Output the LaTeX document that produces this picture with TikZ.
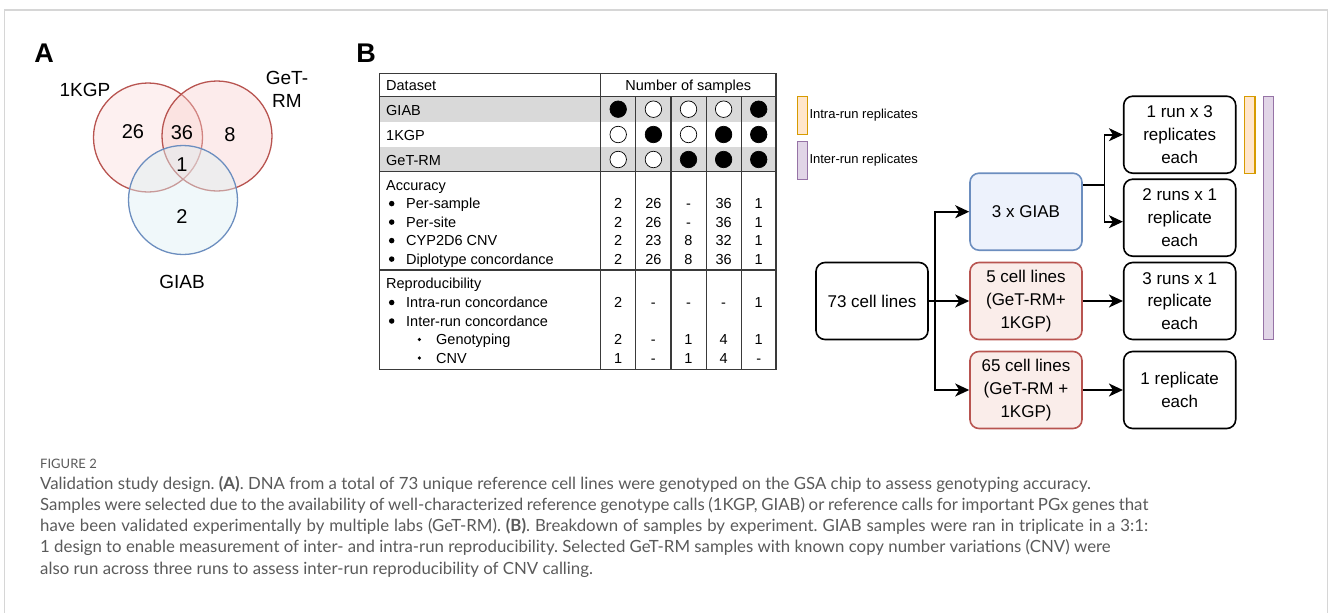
\documentclass[tikz,border=0pt]{standalone}
\usepackage{fontspec}
\setmainfont{Liberation Sans}
\newfontfamily\capfont{Lato}
\usetikzlibrary{arrows.meta}
\frenchspacing
\definecolor{vennred}{HTML}{B85450}
\definecolor{vennredfill}{HTML}{F8CECC}
\definecolor{vennblue}{HTML}{6C8EBF}
\definecolor{vennbluefill}{HTML}{DDF0F3}
\definecolor{rowgray}{HTML}{D9D9D9}
\definecolor{tablegray}{HTML}{3A3A3A}
\definecolor{giabfill}{HTML}{EDF2FC}
\definecolor{cellfill}{HTML}{FAEDEA}
\definecolor{intraline}{HTML}{D79B00}
\definecolor{intrafill}{HTML}{FFE6CC}
\definecolor{interline}{HTML}{9673A6}
\definecolor{interfill}{HTML}{E1D5E7}
\definecolor{capgray}{HTML}{5A5A5A}
\definecolor{framegray}{HTML}{D6D6D6}

\begin{document}
\begin{tikzpicture}[x=1pt,y=-1pt,
  panel/.style={font=\bfseries\fontsize{27}{27}\selectfont},
  vlabel/.style={font=\fontsize{19}{23}\selectfont, align=center},
  vnum/.style={font=\fontsize{20}{22}\selectfont},
  tcell/.style={font=\fontsize{14.5}{16}\selectfont, anchor=base, inner sep=0pt},
  tleft/.style={tcell, anchor=base west},
  bul/.style={circle, fill=black, inner sep=0pt, minimum size=5.5pt},
  subbul/.style={bul, minimum size=3.6pt},
  dotopen/.style={circle, draw=black, fill=white, line width=0.7pt, minimum size=16.5pt, inner sep=0pt},
  dotfull/.style={dotopen, fill=black},
  tline/.style={draw=tablegray, line width=1.1pt},
  flowbox/.style={draw, rounded corners=9pt, line width=1.6pt, minimum width=112pt, minimum height=77pt, align=center, font=\fontsize{17}{22.7}\selectfont, inner sep=2pt},
  arr/.style={line width=1.7pt, -{Stealth[length=14pt,width=13pt,inset=4pt]}},
  capline/.style={anchor=base west, inner sep=0pt, text=capgray, font=\capfont\fontsize{16.8}{20}\selectfont},
  ]
  \useasboundingbox (0,0) rectangle (1328,613);
  \draw[framegray, line width=1.5pt] (4.7,613) -- (4.7,10) -- (1327.3,10) -- (1327.3,613);

  %Panel A: Venn
  \node[panel] (pA) at (44,53) {A};
  \node[circle, draw=vennred, fill=vennredfill, fill opacity=0.3, line width=1.3pt, minimum size=109pt, inner sep=0pt] (ckgp) at (148,137.5) {};
  \node[circle, draw=vennred, fill=vennredfill, fill opacity=0.4, line width=1.3pt, minimum size=110pt, inner sep=0pt] (cgetrm) at (217,136) {};
  \node[circle, draw=vennblue, fill=vennbluefill, fill opacity=0.45, line width=1.3pt, minimum size=109pt, inner sep=0pt] (cgiab) at (183,200) {};
  \node[vlabel] (lkgp) at (85,90) {1KGP};
  \node[vlabel] (lgetrm) at (287,89.5) {GeT-\\RM};
  \node[vlabel] (lgiab) at (182,282) {GIAB};
  \node[vnum] (n26) at (133,132) {26};
  \node[vnum] (n36) at (182,133) {36};
  \node[vnum] (n8) at (230,135) {8};
  \node[vnum] (n1) at (182,165) {1};
  \node[vnum] (n2) at (182,217) {2};

  %Panel B: table
  \node[panel] (pB) at (366,53) {B};
  \fill[rowgray] (379.3,96.7) rectangle (776,121.7);
  \fill[rowgray] (379.3,147.3) rectangle (776,171.7);
  \draw[tline] (379.3,73.3) rectangle (776,369.3);
  \draw[tline] (379.3,96.7) -- (776,96.7);
  \draw[tline] (379.3,171.7) -- (776,171.7);
  \draw[tline] (379.3,270) -- (776,270);
  \draw[tline] (600.7,73.3) -- (600.7,369.3);
  \draw[tline] (635.8,96.7) -- (635.8,369.3);
  \draw[tline] (671,96.7) -- (671,369.3);
  \draw[tline] (706.1,96.7) -- (706.1,369.3);
  \draw[tline] (741.2,96.7) -- (741.2,369.3);
  \node[tleft] (hset) at (386,90.3) {Dataset};
  \node[tcell] (hnum) at (688.3,90.3) {Number of samples};
  \node[tleft] (rgiab) at (386,115.2) {GIAB};
  \node[tleft] (rkgp) at (386,140.4) {1KGP};
  \node[tleft] (rget) at (386,165.4) {GeT-RM};
  \node[dotfull] (d11) at (618.2,109.2) {};
  \node[dotopen] (d12) at (653.4,109.2) {};
  \node[dotopen] (d13) at (688.5,109.2) {};
  \node[dotopen] (d14) at (723.6,109.2) {};
  \node[dotfull] (d15) at (758.7,109.2) {};
  \node[dotopen] (d21) at (618.2,134.5) {};
  \node[dotfull] (d22) at (653.4,134.5) {};
  \node[dotopen] (d23) at (688.5,134.5) {};
  \node[dotfull] (d24) at (723.6,134.5) {};
  \node[dotfull] (d25) at (758.7,134.5) {};
  \node[dotopen] (d31) at (618.2,159.5) {};
  \node[dotopen] (d32) at (653.4,159.5) {};
  \node[dotfull] (d33) at (688.5,159.5) {};
  \node[dotfull] (d34) at (723.6,159.5) {};
  \node[dotfull] (d35) at (758.7,159.5) {};

  \node[tleft] (hacc) at (386,190.1) {Accuracy};
  \node[bul] (bps) at (391.7,203.6) {};
  \node[tleft] (lps) at (406,208.6) {Per-sample};
  \node[bul] (bpsi) at (391.7,222.1) {};
  \node[tleft] (lpsi) at (406,227.1) {Per-site};
  \node[bul] (bcnv) at (391.7,240.6) {};
  \node[tleft] (lcnv) at (406,245.6) {CYP2D6 CNV};
  \node[bul] (bdip) at (391.7,259.1) {};
  \node[tleft] (ldip) at (406,264.1) {Diplotype concordance};
  \node[tcell] (ps1) at (618.2,208.6) {2};  \node[tcell] (ps2) at (653.4,208.6) {26};
  \node[tcell] (ps3) at (688.5,208.6) {-};  \node[tcell] (ps4) at (723.6,208.6) {36};
  \node[tcell] (ps5) at (758.7,208.6) {1};
  \node[tcell] (si1) at (618.2,227.1) {2};  \node[tcell] (si2) at (653.4,227.1) {26};
  \node[tcell] (si3) at (688.5,227.1) {-};  \node[tcell] (si4) at (723.6,227.1) {36};
  \node[tcell] (si5) at (758.7,227.1) {1};
  \node[tcell] (cn1) at (618.2,245.6) {2};  \node[tcell] (cn2) at (653.4,245.6) {23};
  \node[tcell] (cn3) at (688.5,245.6) {8};  \node[tcell] (cn4) at (723.6,245.6) {32};
  \node[tcell] (cn5) at (758.7,245.6) {1};
  \node[tcell] (dp1) at (618.2,264.1) {2};  \node[tcell] (dp2) at (653.4,264.1) {26};
  \node[tcell] (dp3) at (688.5,264.1) {8};  \node[tcell] (dp4) at (723.6,264.1) {36};
  \node[tcell] (dp5) at (758.7,264.1) {1};

  \node[tleft] (hrep) at (386,288.6) {Reproducibility};
  \node[bul] (bintra) at (391.7,302.5) {};
  \node[tleft] (lintra) at (406,307.5) {Intra-run concordance};
  \node[bul] (binter) at (391.7,321) {};
  \node[tleft] (linter) at (406,326) {Inter-run concordance};
  \node[subbul] (bgt) at (419.3,339.5) {};
  \node[tleft] (lgt) at (436,344.5) {Genotyping};
  \node[subbul] (bcv) at (419.3,358) {};
  \node[tleft] (lcv) at (436,363) {CNV};
  \node[tcell] (ir1) at (618.2,307.5) {2};  \node[tcell] (ir2) at (653.4,307.5) {-};
  \node[tcell] (ir3) at (688.5,307.5) {-};  \node[tcell] (ir4) at (723.6,307.5) {-};
  \node[tcell] (ir5) at (758.7,307.5) {1};
  \node[tcell] (gt1) at (618.2,344.5) {2};  \node[tcell] (gt2) at (653.4,344.5) {-};
  \node[tcell] (gt3) at (688.5,344.5) {1};  \node[tcell] (gt4) at (723.6,344.5) {4};
  \node[tcell] (gt5) at (758.7,344.5) {1};
  \node[tcell] (cv1) at (618.2,363) {1};  \node[tcell] (cv2) at (653.4,363) {-};
  \node[tcell] (cv3) at (688.5,363) {1};  \node[tcell] (cv4) at (723.6,363) {4};
  \node[tcell] (cv5) at (758.7,363) {-};

  %Panel B: flow
  \node[draw=intraline, fill=intrafill, line width=1.3pt, minimum width=10pt, minimum height=38pt, inner sep=0pt] (kintra) at (802.3,115.2) {};
  \node[draw=interline, fill=interfill, line width=1.3pt, minimum width=10pt, minimum height=38pt, inner sep=0pt] (kinter) at (802.3,160.2) {};
  \node[anchor=west, inner sep=0pt, font=\fontsize{13}{15}\selectfont] (tintra) at (809.3,115) {Intra-run replicates};
  \node[anchor=west, inner sep=0pt, font=\fontsize{13}{15}\selectfont] (tinter) at (809.3,160) {Inter-run replicates};

  \node[flowbox] (c73) at (872,301) {73 cell lines};
  \node[flowbox, draw=vennblue, fill=giabfill] (giab) at (1026,211.7) {3 x GIAB};
  \node[flowbox, draw=vennred, fill=cellfill] (five) at (1026,301) {5 cell lines\\(GeT-RM+\\1KGP)};
  \node[flowbox, draw=vennred, fill=cellfill] (sixtyfive) at (1026,390) {65 cell lines\\(GeT-RM +\\1KGP)};
  \node[flowbox] (r1) at (1179.7,134.7) {1 run x 3\\replicates\\each};
  \node[flowbox] (r2) at (1179.7,217.7) {2 runs x 1\\replicate\\each};
  \node[flowbox] (r3) at (1179.7,301) {3 runs x 1\\replicate\\each};
  \node[flowbox] (r4) at (1179.7,390) {1 replicate\\each};
  \node[draw=intraline, fill=intrafill, line width=1.3pt, minimum width=10.7pt, minimum height=77pt, inner sep=0pt] (barintra) at (1249.7,134.7) {};
  \node[draw=interline, fill=interfill, line width=1.3pt, minimum width=10pt, minimum height=243pt, inner sep=0pt] (barinter) at (1268.3,217.7) {};

  \coordinate (trunk) at ([xshift=6pt]c73.east);
  \draw[arr] (c73.east) -- (five.west);
  \draw[arr] (trunk) |- (giab.west);
  \draw[arr] (trunk) |- (sixtyfive.west);
  \coordinate (gsplit) at ([xshift=21.6pt,yshift=27pt]giab.east);
  \draw[line width=1.7pt] ([yshift=27pt]giab.east) -- (gsplit);
  \draw[arr] (gsplit) |- (r1.west);
  \draw[arr] (gsplit) |- ([yshift=-4pt]r2.west);
  \draw[arr] (five) -- (r3);
  \draw[arr] (sixtyfive) -- (r4);

  %Caption
  \node[capline, font=\capfont\fontsize{13}{15}\selectfont] (cfig) at (40,468) {FIGURE 2};
  \node[capline] (cap1) at (40,489) {Validation study design. \textbf{(A)}. DNA from a total of 73 unique reference cell lines were genotyped on the GSA chip to assess genotyping accuracy.};
  \node[capline] (cap2) at (40,510.3) {\makebox[1108pt][s]{Samples were selected due to the availability of well-characterized reference genotype calls (1KGP, GIAB) or reference calls for important PGx genes that}};
  \node[capline] (cap3) at (40,531.6) {\makebox[1108pt][s]{have been validated experimentally by multiple labs (GeT-RM). \textbf{(B)}. Breakdown of samples by experiment. GIAB samples were ran in triplicate in a 3:1:}};
  \node[capline] (cap4) at (40,552.9) {1 design to enable measurement of inter- and intra-run reproducibility. Selected GeT-RM samples with known copy number variations (CNV) were};
  \node[capline] (cap5) at (40,574.2) {also run across three runs to assess inter-run reproducibility of CNV calling.};
\end{tikzpicture}
\end{document}
